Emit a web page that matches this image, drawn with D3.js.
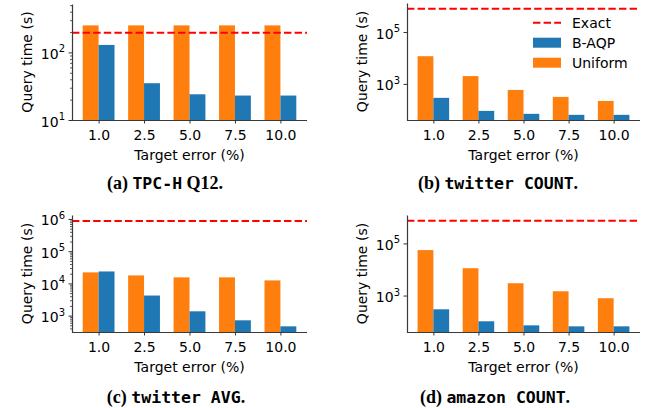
<!DOCTYPE html>
<html>
<head>
<meta charset="utf-8">
<script src="https://d3js.org/d3.v7.min.js"></script>
<style>
  body { margin: 0; background: #fff; }
  text { font-family: "DejaVu Sans", sans-serif; }
</style>
</head>
<body>
<script>
// target error categories (x axis)
const errors = ["1.0", "2.5", "5.0", "7.5", "10.0"];

// (a) TPC-H Q12
const tpchUniform = [251, 251, 251, 251, 251];
const tpchBaqp = [129, 35, 24, 23, 23];
const tpchExact = 196;

// (b) twitter COUNT
const twCountUniform = [11700, 2000, 585, 315, 220];
const twCountBaqp = [290, 91, 70, 64, 64];
const twCountExact = 790000;

// (c) twitter AVG
const twAvgUniform = [22000, 17700, 15400, 15400, 12400];
const twAvgBaqp = [23500, 4200, 1360, 715, 465];
const twAvgExact = 870000;

// (d) amazon COUNT
const amzUniform = [55500, 11200, 2970, 1460, 790];
const amzBaqp = [297, 103, 72, 66, 66];
const amzExact = 740000;

const orange = "#ff7f0e", blue = "#1f77b4", red = "#ff0000";

let width = 646, height = 408;
let svg = d3.select("body").append("svg")
    .attr("width", width)
    .attr("height", height);

function minorsFor(lo, hi) {
    let out = [];
    for (let e = Math.floor(Math.log10(lo)); e <= Math.ceil(Math.log10(hi)); e++) {
        for (let k = 2; k <= 9; k++) {
            let v = k * Math.pow(10, e);
            if (v >= lo && v <= hi) out.push(v);
        }
    }
    return out;
}

function drawPanel(p) {
    let g = svg.append("g");

    let x = d3.scaleLinear().domain([-0.585, 4.585]).range([p.left, p.right]);
    let y = d3.scaleLog().domain(p.domain).range([p.bottom, p.top]);
    let bw = 0.35;

    // bars: Uniform left, B-AQP right
    g.selectAll("rect.uni")
        .data(p.uniform)
        .join("rect")
            .attr("class", "uni")
            .attr("x", (d, i) => x(i - bw))
            .attr("width", (d, i) => x(i) - x(i - bw))
            .attr("y", d => y(d))
            .attr("height", d => p.bottom - y(d))
            .attr("fill", orange);

    g.selectAll("rect.baqp")
        .data(p.baqp)
        .join("rect")
            .attr("class", "baqp")
            .attr("x", (d, i) => x(i))
            .attr("width", (d, i) => x(i + bw) - x(i))
            .attr("y", d => y(d))
            .attr("height", d => p.bottom - y(d))
            .attr("fill", blue);

    // exact line
    g.append("line")
        .attr("x1", p.left).attr("x2", p.right)
        .attr("y1", y(p.exact)).attr("y2", y(p.exact))
        .attr("stroke", red)
        .attr("stroke-width", 2)
        .attr("stroke-dasharray", "7.4,3.2");

    // minor y ticks
    if (p.minor) {
        g.append("g")
            .attr("transform", `translate(${p.left},0)`)
            .call(d3.axisLeft(y).tickValues(minorsFor(p.domain[0], p.domain[1])).tickSize(2).tickFormat(""))
            .call(a => a.select(".domain").remove())
            .selectAll("line").attr("stroke", "#333").attr("stroke-width", 0.8);
    }

    // major y ticks
    let ya = g.append("g")
        .attr("transform", `translate(${p.left},0)`)
        .call(d3.axisLeft(y).tickValues(p.majors).tickSize(3.5).tickSizeOuter(0).tickFormat(""));
    ya.select(".domain").attr("stroke", "#3a3a3a").attr("stroke-width", 1.2);
    ya.selectAll("line").attr("stroke", "#333").attr("stroke-width", 1);

    // y tick labels 10^n
    p.majors.forEach(v => {
        let t = g.append("text")
            .attr("x", p.left - 7)
            .attr("y", y(v) + 6.5)
            .attr("text-anchor", "end")
            .attr("font-size", "14px")
            .attr("fill", "#000");
        t.append("tspan").text("10");
        t.append("tspan")
            .attr("font-size", "10px")
            .attr("dy", -6.5)
            .text(Math.round(Math.log10(v)));
    });

    // x axis
    let xa = g.append("g")
        .attr("transform", `translate(0,${p.bottom})`)
        .call(d3.axisBottom(x).tickValues(d3.range(errors.length)).tickSize(3.5).tickSizeOuter(0)
            .tickFormat(i => errors[i]));
    xa.select(".domain").attr("stroke", "#3a3a3a").attr("stroke-width", 1.2)
        .attr("d", `M${p.left},0.5H${p.right}`);
    xa.selectAll("line").attr("stroke", "#333");
    xa.selectAll("text")
        .attr("font-size", "14px")
        .attr("font-family", "DejaVu Sans")
        .attr("fill", "#000")
        .attr("dy", null)
        .attr("y", 19.5);

    // axis labels
    g.append("text")
        .attr("x", (p.left + p.right) / 2)
        .attr("y", p.bottom + 39.5)
        .attr("text-anchor", "middle")
        .attr("font-size", "14px")
        .text("Target error (%)");

    g.append("text")
        .attr("transform", `translate(${p.left - 40},${(p.top + p.bottom) / 2}) rotate(-90)`)
        .attr("text-anchor", "middle")
        .attr("font-size", "14px")
        .text("Query time (s)");

    // caption
    let c = g.append("text")
        .attr("x", p.capX)
        .attr("y", p.capY)
        .attr("text-anchor", "middle")
        .attr("font-weight", "bold");
    p.caption.forEach(part => {
        c.append("tspan")
            .attr("font-family", part.mono ? "DejaVu Sans Mono" : "Liberation Serif")
            .attr("font-size", part.mono ? "16.5px" : "18px")
            .text(part.t);
    });
}

drawPanel({
    left: 72, right: 307, top: 4, bottom: 120,
    domain: [10, 520], majors: [10, 100], minor: true,
    uniform: tpchUniform, baqp: tpchBaqp, exact: tpchExact,
    capX: 165, capY: 189,
    caption: [{t: "(a) "}, {t: "TPC-H", mono: true}, {t: " Q12."}]
});

drawPanel({
    left: 407, right: 640, top: 3, bottom: 120,
    domain: [40.5, 1.32e6], majors: [1e3, 1e5], minor: false,
    uniform: twCountUniform, baqp: twCountBaqp, exact: twCountExact,
    capX: 498, capY: 189,
    caption: [{t: "(b) "}, {t: "twitter COUNT", mono: true}, {t: "."}]
});

drawPanel({
    left: 72, right: 307, top: 215, bottom: 332,
    domain: [310, 1.33e6], majors: [1e3, 1e4, 1e5, 1e6], minor: true,
    uniform: twAvgUniform, baqp: twAvgBaqp, exact: twAvgExact,
    capX: 176, capY: 403,
    caption: [{t: "(c) "}, {t: "twitter AVG", mono: true}, {t: "."}]
});

drawPanel({
    left: 407, right: 640, top: 215, bottom: 332,
    domain: [40, 1.23e6], majors: [1e3, 1e5], minor: false,
    uniform: amzUniform, baqp: amzBaqp, exact: amzExact,
    capX: 495, capY: 403,
    caption: [{t: "(d) "}, {t: "amazon COUNT", mono: true}, {t: "."}]
});

// legend in panel (b)
const legendItems = [
    {label: "Exact", kind: "line", color: red},
    {label: "B-AQP", kind: "patch", color: blue},
    {label: "Uniform", kind: "patch", color: orange}
];
let lg = svg.append("g").attr("transform", "translate(533,22.7)");
legendItems.forEach((d, i) => {
    let row = lg.append("g").attr("transform", `translate(0,${i * 20})`);
    if (d.kind === "line") {
        row.append("line")
            .attr("x1", 0).attr("x2", 28)
            .attr("stroke", d.color).attr("stroke-width", 2)
            .attr("stroke-dasharray", "7.4,3.2");
    } else {
        row.append("rect")
            .attr("x", 0).attr("y", -5)
            .attr("width", 28).attr("height", 10)
            .attr("fill", d.color);
    }
    row.append("text")
        .attr("x", 39).attr("y", 5)
        .attr("font-size", "14px")
        .text(d.label);
});
</script>
</body>
</html>
